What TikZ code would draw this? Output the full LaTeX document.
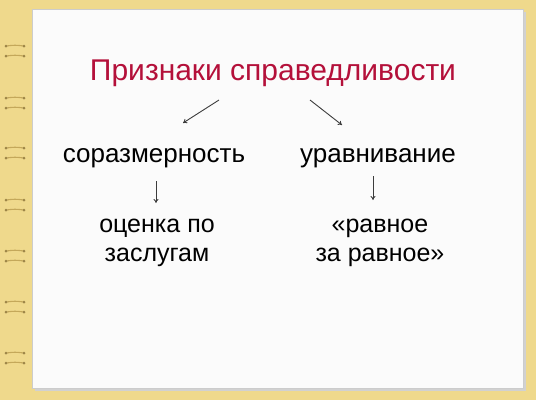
\documentclass[tikz,border=0pt]{standalone}
\usepackage{fontspec}
\setmainfont{Liberation Sans}
\usetikzlibrary{arrows.meta}
\begin{document}
\begin{tikzpicture}[x=1pt,y=-1pt]
        \definecolor{binderyellow}{HTML}{EFD98C}
        \definecolor{ringbrown}{HTML}{C4A85A}
        \definecolor{titlered}{HTML}{B4103A}
        \definecolor{arrowgray}{HTML}{3C3C3C}
        \tikzset{
          leveltext/.style={font=\fontsize{26}{29}\selectfont, align=center, inner sep=0pt},
          thinarrow/.style={draw=arrowgray, line width=0.9pt, -{To[length=4pt,width=5pt]}}
        }

        \useasboundingbox (0,0) rectangle (536,400);
        \fill[binderyellow] (0,0) rectangle (536,400);
        % sheet with a faint shadow on the right
        \fill[black!18] (35,12) rectangle (526,391);
        \draw[line width=1pt, draw=black!20, fill=white!97!gray] (32,9) rectangle (523,388);

        % binder rings
        \foreach \y in {51,103,153,205,256,307,358} {
          \draw[line width=1.1pt, ringbrown, line cap=round] (6,\y-5) .. controls (15,\y-6) .. (24,\y-5);
          \draw[line width=1.1pt, ringbrown, line cap=round] (6,\y+5) .. controls (15,\y+4) .. (24,\y+5);
          \fill[ringbrown!80!black] (6,\y-5) circle (1.5pt) (24,\y-5) circle (1.5pt) (6,\y+5) circle (1.5pt) (24,\y+5) circle (1.5pt);
        }

        \node[font=\fontsize{30}{33}\selectfont, text=titlered, inner sep=0pt] (title) at (273,73) {Признаки справедливости};

        \node[leveltext] (prop) at (154,158) {соразмерность};
        \node[leveltext] (equal) at (378,158) {уравнивание};
        \node[leveltext, font=\fontsize{25}{29}\selectfont] (merit) at (157,243) {оценка по\\заслугам};
        \node[leveltext, font=\fontsize{25}{29}\selectfont] (same) at (380,243) {«равное\\за равное»};

        \coordinate (propfrom) at (219,100);
        \coordinate (propto) at (183,123);
        \coordinate (equalfrom) at (310,100);
        \coordinate (equalto) at (342,125);
        \coordinate (meritfrom) at (156,181);
        \coordinate (meritto) at (156,203);
        \coordinate (samefrom) at (373,176);
        \coordinate (sameto) at (373,200);
        \draw[thinarrow] (propfrom) -- (propto);
        \draw[thinarrow] (equalfrom) -- (equalto);
        \draw[thinarrow] (meritfrom) -- (meritto);
        \draw[thinarrow] (samefrom) -- (sameto);
    \end{tikzpicture}
\end{document}
